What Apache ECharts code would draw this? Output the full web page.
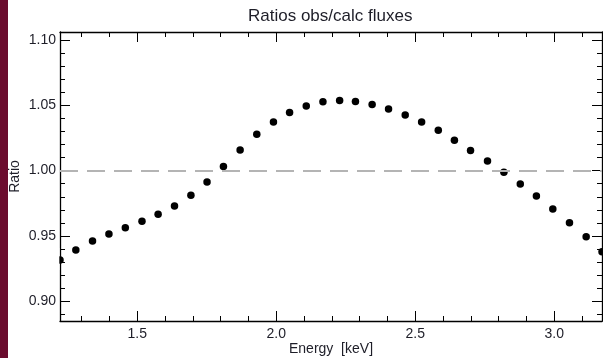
<!DOCTYPE html>
<html>
<head>
<meta charset="utf-8">
<script src="https://cdn.jsdelivr.net/npm/echarts@6/dist/echarts.min.js"></script>
<style>
html,body{margin:0;padding:0;background:#fff;}
#chart{width:603px;height:358px;}
</style>
</head>
<body>
<div id="chart"></div>
<script>
var energy = [1.222,1.279,1.339,1.398,1.457,1.517,1.575,1.634,1.693,1.751,1.810,1.870,1.930,1.990,2.048,2.108,2.168,2.228,2.285,2.345,2.404,2.464,2.523,2.583,2.641,2.699,2.760,2.819,2.878,2.936,2.995,3.055,3.115,3.172];
var ratio = [0.9316,0.9393,0.9462,0.9515,0.9564,0.9613,0.9666,0.9730,0.9812,0.9913,1.0031,1.0158,1.0279,1.0371,1.0444,1.0495,1.0526,1.0536,1.0528,1.0505,1.0472,1.0426,1.0371,1.0309,1.0233,1.0153,1.0074,0.9988,0.9898,0.9806,0.9707,0.9602,0.9495,0.9380];
var xMajorTicks = [1.5,2.0,2.5,3.0];
var xMinorTicks = [1.3,1.4,1.6,1.7,1.8,1.9,2.1,2.2,2.3,2.4,2.6,2.7,2.8,2.9,3.1];
var yMajorTicks = [0.90,0.95,1.00,1.05,1.10];
var yMinorTicks = [0.89,0.91,0.92,0.93,0.94,0.96,0.97,0.98,0.99,1.01,1.02,1.03,1.04,1.06,1.07,1.08,1.09];
var referenceLevel = 1.0;
var xRange = [1.222, 3.172];
var yRange = [0.885, 1.106];

var FONT = "'Liberation Sans', Arial, sans-serif";
var TXT = '#1e1e28';

function xAxisDef(pos, ticks, len, showLine, showLabel, name) {
  return {
    type: 'value', position: pos, min: xRange[0], max: xRange[1],
    name: name || '', nameLocation: 'middle', nameGap: 21, nameMoveOverlap: false,
    nameTextStyle: {fontFamily: FONT, fontSize: 14, color: TXT},
    axisLine: {show: showLine, onZero: false, lineStyle: {color: '#000', width: 1.3}},
    axisTick: {show: true, inside: true, length: len, customValues: ticks, lineStyle: {color: '#000', width: 1}},
    axisLabel: {show: showLabel, customValues: ticks, margin: 6, fontFamily: FONT, fontSize: 14, color: TXT,
      formatter: function (v) { return v.toFixed(1); }},
    splitLine: {show: false}
  };
}
function yAxisDef(pos, ticks, len, showLine, showLabel, name) {
  return {
    type: 'value', position: pos, min: yRange[0], max: yRange[1],
    name: name || '', nameLocation: 'middle', nameGap: 38, nameRotate: 90, nameMoveOverlap: false,
    nameTextStyle: {fontFamily: FONT, fontSize: 14, color: TXT},
    axisLine: {show: showLine, onZero: false, lineStyle: {color: '#000', width: 1.3}},
    axisTick: {show: true, inside: true, length: len, customValues: ticks, lineStyle: {color: '#000', width: 1}},
    axisLabel: {show: showLabel, customValues: ticks, margin: 4, fontFamily: FONT, fontSize: 14, color: TXT,
      formatter: function (v) { return v.toFixed(2); }},
    splitLine: {show: false}
  };
}

var chart = echarts.init(document.getElementById('chart'), null, {renderer: 'canvas'});
chart.setOption({
  animation: false,
  backgroundColor: '#fff',
  title: {
    text: 'Ratios obs/calc fluxes', left: 248, top: 8, padding: 0,
    textStyle: {fontFamily: FONT, fontSize: 17, fontWeight: 'normal', color: TXT}
  },
  grid: {left: 60, right: 1, top: 32, bottom: 37, containLabel: false, outerBoundsMode: 'none'},
  xAxis: [
    xAxisDef('bottom', xMajorTicks, 10, true, true, 'Energy  [keV]'),
    xAxisDef('bottom', xMinorTicks, 5, false, false),
    xAxisDef('top', xMajorTicks, 10, true, false),
    xAxisDef('top', xMinorTicks, 5, false, false)
  ],
  yAxis: [
    yAxisDef('left', yMajorTicks, 10, true, true, 'Ratio'),
    yAxisDef('left', yMinorTicks, 5, false, false),
    yAxisDef('right', yMajorTicks, 10, true, false),
    yAxisDef('right', yMinorTicks, 5, false, false)
  ],
  series: [{
    type: 'scatter', xAxisIndex: 0, yAxisIndex: 0, clip: false,
    symbol: 'circle', symbolSize: 7.5,
    itemStyle: {color: '#000', opacity: 1},
    data: energy.map(function (e, i) { return [e, ratio[i]]; }),
    markLine: {
      silent: true, symbol: 'none', label: {show: false}, animation: false,
      lineStyle: {color: '#b4b4b4', width: 2, type: [18, 9]},
      data: [{yAxis: referenceLevel}]
    },
    z: 3
  }],
  graphic: [
    {type: 'rect', left: 0, top: 0, shape: {width: 8, height: 358}, style: {fill: '#6b0c2e'}, z: 100},
    {type: 'rect', left: 48, top: 248, shape: {width: 11.3, height: 22}, style: {fill: '#fff'}, z: 100}
  ]
});
</script>
</body>
</html>
